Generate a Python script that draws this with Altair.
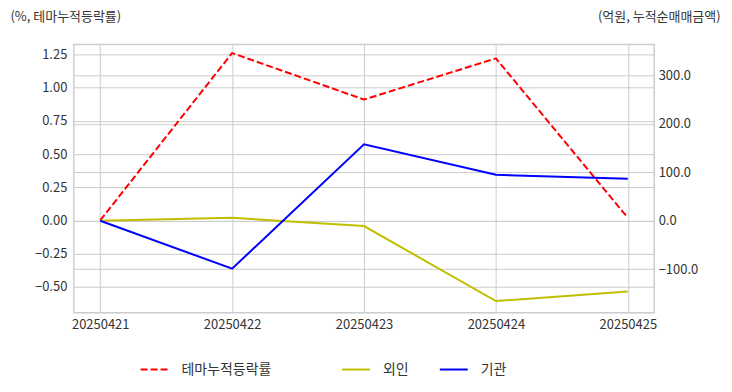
import altair as alt
import pandas as pd

dates = ["20250421", "20250422", "20250423", "20250424", "20250425"]
theme_rate = [0.00, 1.26, 0.91, 1.22, 0.02]
foreign_amt = [0.0, 6.0, -11.0, -166.0, -146.0]
inst_amt = [0.0, -99.0, 158.0, 95.0, 87.0]

left_ticks = [-0.5, -0.25, 0.0, 0.25, 0.5, 0.75, 1.0, 1.25]
right_ticks = [-100, 0, 100, 200, 300]

FONT = "Noto Sans CJK KR"
TXT = "#333333"

left_df = pd.DataFrame({"date": dates, "value": theme_rate, "series": ["테마누적등락률"] * 5})
right_df = pd.DataFrame({
    "date": dates * 2,
    "value": foreign_amt + inst_amt,
    "series": ["외인"] * 5 + ["기관"] * 5,
})

x_enc = alt.X(
    "date:O",
    sort=dates,
    scale=alt.Scale(type="point", padding=0.2),
    axis=alt.Axis(title=None, labelAngle=0, grid=True, labelPadding=6),
)

left = alt.Chart(left_df).mark_line(strokeWidth=2, strokeDash=[7, 3]).encode(
    x=x_enc,
    y=alt.Y(
        "value:Q",
        scale=alt.Scale(domain=[-0.694, 1.325], nice=False, zero=False),
        axis=alt.Axis(
            orient="left", values=left_ticks, format=".2f", grid=True, labelPadding=7,
            title="(%, 테마누적등락률)", titleAngle=0, titleAlign="left", titleBaseline="middle",
            titleX=-64, titleY=-28, titleFontSize=13, titleFontWeight="normal", titleColor=TXT,
            titleFont=FONT,
        ),
    ),
    color=alt.Color(
        "series:N",
        scale=alt.Scale(domain=["테마누적등락률"], range=["#ff0000"]),
        legend=alt.Legend(
            orient="none", legendX=66, legendY=311, direction="horizontal", title=None,
            symbolType="stroke", symbolSize=784, symbolStrokeWidth=2, symbolDash=[7, 3],
            labelOffset=12, padding=0, labelFontSize=14, labelFont=FONT, labelColor=TXT,
        ),
    ),
)

right = alt.Chart(right_df).mark_line(strokeWidth=2).encode(
    x=x_enc,
    y=alt.Y(
        "value:Q",
        scale=alt.Scale(domain=[-190, 364.5], nice=False, zero=False),
        axis=alt.Axis(
            orient="right", values=right_ticks, format=".1f", grid=True, labelPadding=4,
            title="(억원, 누적순매매금액)", titleAngle=0, titleAlign="right", titleBaseline="middle",
            titleX=66, titleY=-28, titleFontSize=13, titleFontWeight="normal", titleColor=TXT,
            titleFont=FONT,
        ),
    ),
    color=alt.Color(
        "series:N",
        scale=alt.Scale(domain=["외인", "기관"], range=["#bfbf00", "#0000ff"]),
        legend=alt.Legend(
            orient="none", legendX=268, legendY=311, direction="horizontal", title=None,
            symbolType="stroke", symbolSize=784, symbolStrokeWidth=2,
            labelOffset=12, padding=0, labelFontSize=14, labelFont=FONT, labelColor=TXT,
            columnPadding=27,
        ),
    ),
)

chart = (
    alt.layer(left, right)
    .resolve_scale(y="independent", color="independent")
    .properties(
        width=582, height=269, autosize="none", background="white",
        padding={"left": 66, "top": 36, "right": 70, "bottom": 75},
    )
    .configure_axis(
        labelFont=FONT, labelFontSize=13, labelColor=TXT, ticks=False, tickSize=0,
        domain=False, gridColor="#cccccc", gridWidth=1,
    )
    .configure_view(stroke="#cccccc", strokeWidth=1.5)
)

chart.save("out.html", embed_options={"renderer": "svg", "actions": False})
